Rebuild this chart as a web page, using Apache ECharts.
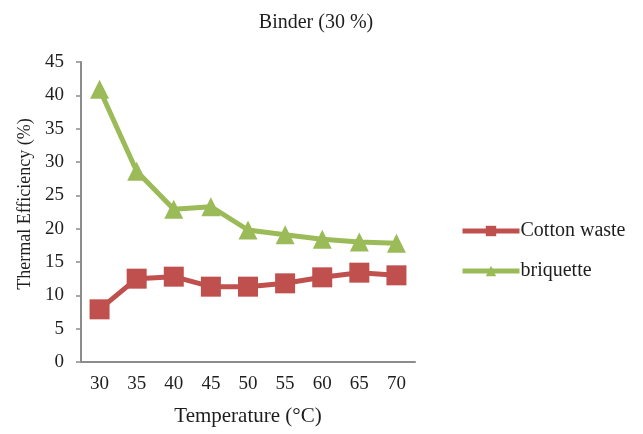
<!DOCTYPE html>
<html>
<head>
<meta charset="utf-8">
<script src="https://cdn.jsdelivr.net/npm/echarts@6/dist/echarts.min.js"></script>
<style>
  html, body { margin: 0; padding: 0; background: #fff; }
  #chart { width: 643px; height: 434px; }
</style>
</head>
<body>
<div id="chart"></div>
<script>
// Temperature steps (°C)
const temperatures = ['30', '35', '40', '45', '50', '55', '60', '65', '70'];
// Thermal efficiency (%) per fuel
const cottonWaste = [7.9, 12.5, 12.8, 11.3, 11.3, 11.8, 12.7, 13.4, 13.0];
const briquette = [40.9, 28.6, 22.9, 23.3, 19.8, 19.1, 18.4, 18.0, 17.8];

const serif = '"Liberation Serif", "DejaVu Serif", serif';
const axisGray = '#8c8c8c';
const ink = '#1e1e1e';

const chart = echarts.init(document.getElementById('chart'));
chart.setOption({
  animation: false,
  backgroundColor: '#ffffff',
  textStyle: { fontFamily: serif },
  title: {
    text: 'Binder (30 %)',
    left: 311,
    textAlign: 'center',
    top: 8,
    textStyle: { fontFamily: serif, fontSize: 20, fontWeight: 'normal', color: ink }
  },
  legend: {
    orient: 'vertical',
    left: 455,
    top: 216,
    itemWidth: 57,
    itemHeight: 13,
    itemGap: 20,
    lineStyle: { width: 5 },
    textStyle: { fontFamily: serif, fontSize: 20, color: ink, padding: [0, 0, 0, -4] },
    data: ['Cotton waste', 'briquette']
  },
  grid: { left: 81, right: 228, top: 62, bottom: 72 },
  xAxis: {
    type: 'category',
    data: temperatures,
    boundaryGap: true,
    name: 'Temperature (°C)',
    nameLocation: 'middle',
    nameGap: 44,
    nameTextStyle: { fontFamily: serif, fontSize: 21, color: ink },
    axisLine: { lineStyle: { color: axisGray, width: 2 } },
    axisTick: { show: false },
    axisLabel: { fontFamily: serif, fontSize: 19, color: ink, margin: 13 }
  },
  yAxis: {
    type: 'value',
    min: 0,
    max: 45,
    interval: 5,
    name: 'Thermal Efficiency (%)',
    nameLocation: 'middle',
    nameGap: 45,
    nameTextStyle: { fontFamily: serif, fontSize: 18, color: ink, padding: [0, 0, 0, 16] },
    axisLine: { show: true, lineStyle: { color: axisGray, width: 2 } },
    axisTick: { show: true, length: 5, lineStyle: { color: axisGray, width: 1.5 } },
    axisLabel: { fontFamily: serif, fontSize: 19, color: ink, margin: 17 },
    splitLine: { show: false }
  },
  series: [
    {
      name: 'Cotton waste',
      type: 'line',
      data: cottonWaste,
      symbol: 'rect',
      symbolSize: 20,
      itemStyle: { color: '#c0504d' },
      lineStyle: { color: '#c0504d', width: 5 }
    },
    {
      name: 'briquette',
      type: 'line',
      data: briquette,
      symbol: 'triangle',
      symbolSize: 19,
      itemStyle: { color: '#9bbb59' },
      lineStyle: { color: '#9bbb59', width: 5 }
    }
  ]
});
</script>
</body>
</html>
